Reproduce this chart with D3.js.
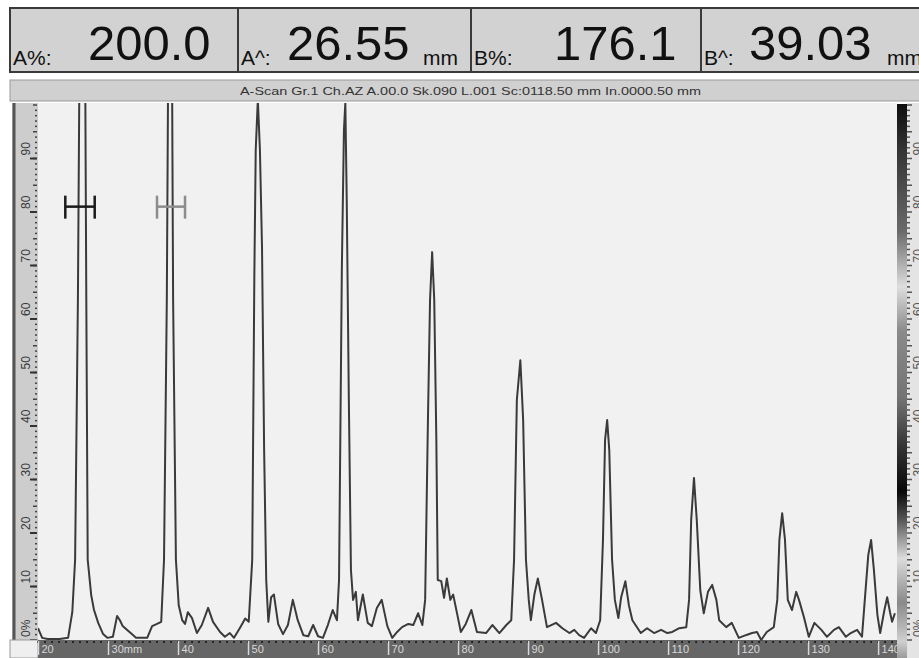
<!DOCTYPE html>
<html>
<head>
<meta charset="utf-8">
<script src="https://cdn.jsdelivr.net/npm/d3@7/dist/d3.min.js"></script>
<style>
  body { margin: 0; background: #fff; }
  svg { display: block; font-family: "Liberation Sans", Arial, sans-serif; }
</style>
</head>
<body>
<svg id="chart" width="919" height="658"></svg>
<script>
// readouts in the top boxes
const readoutLabels = ["A%:", "A^:", "B%:", "B^:"];
const readoutValues = ["200.0", "26.55", "176.1", "39.03"];
const readoutUnits = ["", "mm", "", "mm"];

const headerText = "A-Scan Gr.1 Ch.AZ A.00.0 Sk.090 L.001 Sc:0118.50 mm In.0000.50 mm";

// axis ticks
const xTicks = [20, 30, 40, 50, 60, 70, 80, 90, 100, 110, 120, 130, 140];
const xTickLabels = ["20", "30mm", "40", "50", "60", "70", "80", "90", "100", "110", "120", "130", "140"];
const yTicks = [0, 10, 20, 30, 40, 50, 60, 70, 80, 90];
const yTickLabels = ["0%", "10", "20", "30", "40", "50", "60", "70", "80", "90"];

// gates (mm start, mm end, level %)
const gateA = [23.9, 28.1, 81];
const gateB = [37.0, 41.0, 81];

// A-scan trace: depth (mm) and amplitude (%)
const traceMm = [20.0, 20.6, 21.4, 23.1, 24.3, 24.9, 25.3, 25.7, 26.4, 26.9, 27.1, 27.6, 28.0, 28.6, 29.3, 29.9,
  30.7, 31.3, 31.7, 32.1, 32.7, 33.4, 34.0, 35.6, 36.3, 37.0, 37.6, 38.0, 38.4, 38.9, 39.3, 39.7,
  40.1, 40.6, 41.0, 41.4, 42.0, 42.7, 43.4, 44.3, 45.0, 46.0, 46.7, 47.4, 48.0, 48.9, 49.6, 50.1,
  50.6, 50.9, 51.1, 51.4, 51.7, 52.0, 52.3, 52.6, 52.9, 53.3, 53.7, 54.3, 55.0, 55.7, 56.4, 57.1,
  57.9, 58.6, 59.3, 60.0, 60.7, 61.4, 62.1, 62.7, 63.0, 63.4, 63.7, 63.9, 64.1, 64.4, 64.7, 65.0,
  65.4, 65.7, 66.4, 67.1, 67.7, 68.4, 69.1, 69.9, 70.6, 71.3, 72.0, 72.9, 73.6, 74.3, 74.9, 75.3,
  75.7, 76.0, 76.3, 76.6, 76.9, 77.1, 77.6, 78.0, 78.4, 78.9, 79.3, 79.9, 80.4, 81.1, 81.9, 82.7,
  84.0, 84.9, 85.9, 86.9, 87.6, 88.0, 88.4, 88.9, 89.3, 89.7, 90.1, 90.4, 90.9, 91.4, 92.0, 92.7,
  94.0, 94.9, 95.9, 96.6, 97.3, 98.0, 99.0, 99.7, 100.3, 100.7, 101.0, 101.3, 101.6, 102.0, 102.4, 102.9,
  103.3, 103.9, 104.4, 104.9, 106.1, 107.0, 108.0, 109.0, 109.9, 110.6, 111.6, 112.6, 113.0, 113.3, 113.7, 114.1,
  114.6, 115.1, 115.7, 116.3, 116.9, 117.3, 118.3, 119.1, 120.1, 121.1, 122.0, 122.7, 123.3, 124.1, 125.1, 125.6,
  125.9, 126.3, 126.7, 127.1, 127.7, 128.3, 128.7, 129.4, 130.1, 130.9, 131.9, 132.7, 133.7, 134.4, 135.4, 136.1,
  137.0, 137.7, 138.1, 138.6, 139.0, 139.4, 139.9, 140.3, 140.9, 141.3, 141.7, 142.0, 142.4];
const tracePct = [2.2, 0.4, 0.2, 0.2, 0.4, 5.2, 15, 63.6, 200, 63.6, 15, 8.4, 5.6, 3.2, 1.1, 0.4,
  0.6, 4.5, 3.7, 2.6, 1.9, 1.1, 0.4, 0.4, 2.6, 3.0, 3.4, 15, 63.6, 176.1, 63.6, 15,
  6.5, 3.7, 3.0, 5.2, 4.1, 1.3, 2.8, 6.0, 3.4, 1.5, 0.6, 1.3, 0.4, 2.4, 4.0, 3.4,
  15, 67.7, 91.6, 101, 91.6, 73.3, 35.5, 11.2, 3.4, 8.0, 8.5, 3.0, 1.1, 2.8, 7.5, 3.7,
  0.9, 0.7, 2.8, 0.7, 0.4, 2.8, 5.6, 3.7, 11.2, 69.2, 95.3, 100.4, 82.2, 44.9, 13.1, 7.5,
  9.0, 3.7, 8.5, 3.2, 2.6, 6.0, 7.5, 2.6, 0.4, 1.5, 2.4, 3.0, 2.8, 5.0, 2.8, 7.5,
  41.1, 63.6, 72.5, 63.6, 37.4, 11.2, 11.0, 7.9, 11.5, 7.5, 8.5, 4.7, 1.5, 3.0, 5.6, 1.5,
  1.3, 2.8, 1.3, 2.8, 3.7, 15, 44.9, 52.3, 41.1, 15, 7.5, 3.7, 8.5, 11.5, 7.5, 2.4,
  3.2, 2.2, 1.3, 1.9, 0.9, 0.4, 2.2, 1.3, 3.7, 18.7, 37.4, 41.1, 35.5, 15, 7.5, 4.1,
  8.0, 11.0, 6.5, 3.7, 1.3, 2.2, 1.3, 1.9, 1.3, 1.5, 2.2, 2.4, 7.5, 22.4, 30.3, 22.4,
  9.3, 5.0, 9.0, 10.3, 7.5, 3.7, 2.4, 3.2, 0.4, 0.9, 1.3, 1.5, 0, 1.5, 2.4, 7.5,
  18.7, 23.7, 18.7, 7.5, 5.6, 9.0, 7.5, 4.3, 0.6, 3.2, 1.9, 0.6, 1.9, 2.4, 0.6, 1.3,
  1.9, 0.6, 7.5, 15.9, 18.7, 13.1, 4.7, 1.3, 5.6, 8.0, 5.2, 3.4, 5.0];

const svg = d3.select("#chart");

// top readout boxes
const boxX = [10, 238, 471, 701];
const boxW = [228, 233, 230, 222];
const valueX = [88, 287, 554, 749];
const unitX = [0, 423, 0, 887];
readoutLabels.forEach((lab, i) => {
  const g = svg.append("g");
  g.append("rect")
    .attr("x", boxX[i]).attr("y", 8)
    .attr("width", boxW[i]).attr("height", 64)
    .attr("fill", "#d2d2d2")
    .attr("stroke", "#3a3a3a").attr("stroke-width", 2);
  g.append("text")
    .attr("x", boxX[i] + 3).attr("y", 65)
    .attr("font-size", 21).attr("fill", "#111")
    .text(lab);
  g.append("text")
    .attr("x", valueX[i]).attr("y", 60)
    .attr("font-size", 49).attr("fill", "#111")
    .text(readoutValues[i]);
  if (readoutUnits[i]) {
    g.append("text")
      .attr("x", unitX[i]).attr("y", 65)
      .attr("font-size", 21).attr("fill", "#111")
      .text(readoutUnits[i]);
  }
});

// header bar
svg.append("rect")
  .attr("x", 10).attr("y", 80).attr("width", 912).attr("height", 21)
  .attr("fill", "#d0d0d0").attr("stroke", "#9a9a9a");
svg.append("text")
  .attr("x", 240).attr("y", 95)
  .attr("font-size", 11).attr("fill", "#333")
  .attr("textLength", 461).attr("lengthAdjust", "spacingAndGlyphs")
  .text(headerText);

// scales
const x = d3.scaleLinear().domain([20, 142.7]).range([38, 897]);
const y = d3.scaleLinear().domain([0, 100]).range([640, 105]);

// plot background
svg.append("rect")
  .attr("x", 38).attr("y", 103).attr("width", 859).attr("height", 537)
  .attr("fill", "#f1f1f1");

// left scale strip
svg.append("rect")
  .attr("x", 12).attr("y", 103).attr("width", 26).attr("height", 540)
  .attr("fill", "#cdcdcd");
svg.append("line")
  .attr("x1", 14).attr("x2", 14).attr("y1", 103).attr("y2", 643)
  .attr("stroke", "#555").attr("stroke-width", 3);

const yMinor = d3.range(0, 101, 1);
svg.append("g").selectAll("rect")
  .data(yMinor)
  .join("rect")
  .attr("x", d => d % 5 === 0 ? 33 : 35)
  .attr("y", d => y(d) - 0.75)
  .attr("width", d => d % 5 === 0 ? 4 : 2)
  .attr("height", 1.5)
  .attr("fill", "#444");

const yAx = svg.append("g");
yAx.selectAll("line")
  .data(yTicks)
  .join("line")
  .attr("x1", 30).attr("x2", 37)
  .attr("y1", d => y(d)).attr("y2", d => y(d))
  .attr("stroke", "#333").attr("stroke-width", 2);
yAx.selectAll("text")
  .data(yTicks)
  .join("text")
  .attr("transform", d => `translate(30,${y(d) - 3}) rotate(-90)`)
  .attr("font-size", 12).attr("fill", "#3a3a3a")
  .text((d, i) => yTickLabels[i]);

// bottom scale strip
svg.append("rect")
  .attr("x", 10).attr("y", 640).attr("width", 28).attr("height", 18)
  .attr("fill", "#efefef").attr("stroke", "#999");
svg.append("rect")
  .attr("x", 38).attr("y", 640).attr("width", 859).attr("height", 18)
  .attr("fill", "#666");
svg.append("g").selectAll("rect")
  .data(d3.range(20, 143, 1))
  .join("rect")
  .attr("x", d => x(d) - 0.75).attr("y", 641)
  .attr("width", 1.5).attr("height", 2)
  .attr("fill", "#111");

const xAxis = d3.axisBottom(x)
  .tickValues(xTicks)
  .tickSize(14)
  .tickFormat((d, i) => xTickLabels[i]);
const xAx = svg.append("g")
  .attr("transform", "translate(0,641)")
  .call(xAxis);
xAx.select(".domain").remove();
xAx.selectAll(".tick line").attr("stroke", "#d8d8d8").attr("stroke-width", 1.5);
xAx.selectAll(".tick text")
  .attr("y", 12).attr("dy", 0).attr("x", 3)
  .attr("text-anchor", "start")
  .attr("font-size", 11)
  .attr("font-family", "Liberation Sans, Arial, sans-serif")
  .attr("fill", "#d8d8d8");

// right gradient bar
const defs = svg.append("defs");
const grad = defs.append("linearGradient")
  .attr("id", "bar").attr("x1", 0).attr("x2", 0).attr("y1", 0).attr("y2", 1);
const gStops = [[0, "#0d0d0d"], [0.08, "#333"], [0.23, "#6a6a6a"], [0.33, "#dedede"], [0.41, "#8a8a8a"],
  [0.53, "#747474"], [0.62, "#333"], [0.7, "#080808"], [0.75, "#555"], [0.82, "#dcdcdc"],
  [0.9, "#8a8a8a"], [0.97, "#cfcfcf"], [1, "#9a9a9a"]];
gStops.forEach(s => grad.append("stop").attr("offset", s[0]).attr("stop-color", s[1]));
svg.append("rect")
  .attr("x", 897).attr("y", 104).attr("width", 10).attr("height", 554)
  .attr("fill", "url(#bar)");
svg.append("rect")
  .attr("x", 907).attr("y", 103).attr("width", 12).attr("height", 555)
  .attr("fill", "#e4e4e4");
svg.append("g").selectAll("rect")
  .data(yMinor)
  .join("rect")
  .attr("x", 907)
  .attr("y", d => y(d) - 0.75)
  .attr("width", d => d % 5 === 0 ? 5 : 3)
  .attr("height", 1.5)
  .attr("fill", "#555");
svg.append("g").selectAll("text")
  .data(yTicks)
  .join("text")
  .attr("transform", d => `translate(922,${y(d) - 3}) rotate(-90)`)
  .attr("font-size", 12).attr("fill", "#555")
  .text((d, i) => yTickLabels[i]);

// trace
defs.append("clipPath").attr("id", "plotclip")
  .append("rect").attr("x", 38).attr("y", 103).attr("width", 859).attr("height", 538);

const line = d3.line()
  .x(d => x(d[0]))
  .y(d => y(d[1]));
const pts = traceMm.map((m, i) => [m, tracePct[i]]);
svg.append("path")
  .attr("clip-path", "url(#plotclip)")
  .attr("d", line(pts))
  .attr("fill", "none")
  .attr("stroke", "#3a3a3a")
  .attr("stroke-width", 2)
  .attr("stroke-linejoin", "round");

// gates
function drawGate(gate, color) {
  const g = svg.append("g").attr("stroke", color).attr("stroke-width", 2.5);
  g.append("line")
    .attr("x1", x(gate[0])).attr("x2", x(gate[1]))
    .attr("y1", y(gate[2])).attr("y2", y(gate[2]));
  [gate[0], gate[1]].forEach(v => {
    g.append("line")
      .attr("x1", x(v)).attr("x2", x(v))
      .attr("y1", y(gate[2]) - 11).attr("y2", y(gate[2]) + 12);
  });
}
drawGate(gateA, "#1a1a1a");
drawGate(gateB, "#8c8c8c");
</script>
</body>
</html>
